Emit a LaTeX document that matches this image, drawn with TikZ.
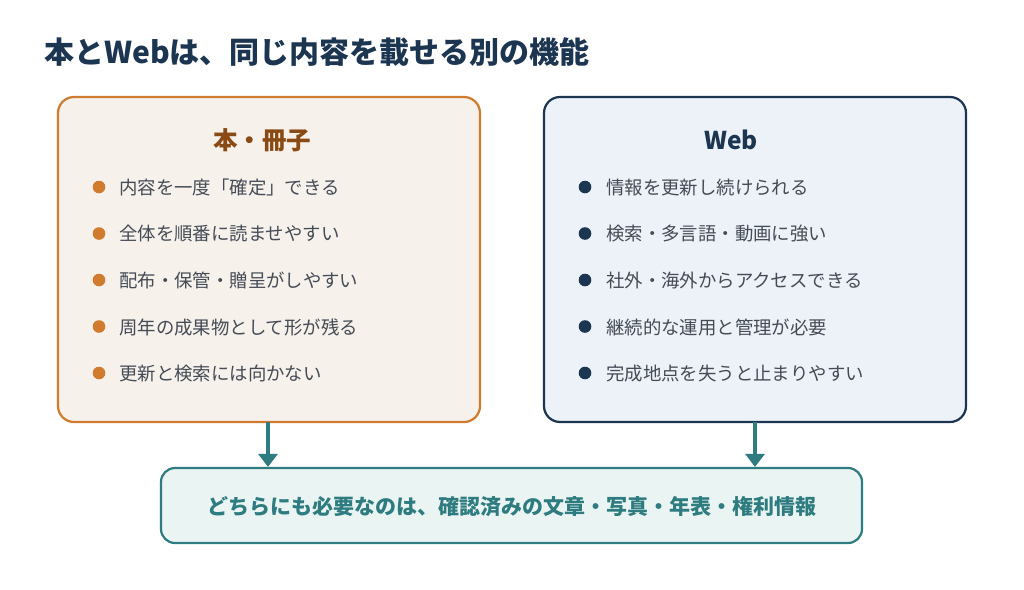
\documentclass[tikz,border=0pt]{standalone}
\usepackage{fontspec}
\setmainfont{Noto Sans CJK JP}
\usetikzlibrary{arrows.meta}
\definecolor{navy}{HTML}{1C3550}
\definecolor{orng}{HTML}{D07B2E}
\definecolor{brwn}{HTML}{8A4A14}
\definecolor{teal2}{HTML}{2E7C80}
\definecolor{txtg}{HTML}{454B55}
\definecolor{lfill}{HTML}{F6F1EB}
\definecolor{rfill}{HTML}{EDF2F9}
\definecolor{bfill}{HTML}{EAF4F2}
\tikzset{
  panel/.style={rounded corners=16pt, line width=2.2pt},
  itemtext/.style={anchor=west, inner sep=0pt, text=txtg, font=\fontsize{18.4}{21}\selectfont},
  headtext/.style={inner sep=0pt, font=\fontsize{24.5}{28}\selectfont\bfseries},
  flow/.style={draw=teal2, line width=3.5pt, -{Triangle[length=13pt,width=19pt]}},
}
\begin{document}
\begin{tikzpicture}[x=1pt,y=-1pt]
\useasboundingbox[fill=white] (0,0) rectangle (1024,589);
\node[anchor=west, inner sep=0pt, text=navy, font=\fontsize{30}{34}\selectfont\bfseries] (title) at (44,52) {本とWebは、同じ内容を載せる別の機能};

\draw[panel, draw=orng, fill=lfill] (58,97) rectangle (480,422);
\coordinate (lbot) at (268,422);
\draw[panel, draw=navy, fill=rfill] (544,97) rectangle (966,422);
\coordinate (rbot) at (755,422);
\node[draw=teal2, fill=bfill, rounded corners=14pt, line width=2.2pt, minimum width=701pt, minimum height=75pt, inner sep=0pt] (both) at (511.5,505.5) {};
\node[inner sep=0pt, text=teal2, font=\fontsize{21}{24}\selectfont\bfseries] (bothtext) at (512,507) {どちらにも必要なのは、確認済みの文章・写真・年表・権利情報};

\node[headtext, text=brwn] (lhead) at (262,140) {本・冊子};
\node[headtext, text=navy] (rhead) at (731,140) {Web};

\foreach \t [count=\i] in {内容を一度「確定」できる,全体を順番に読ませやすい,配布・保管・贈呈がしやすい,周年の成果物として形が残る,更新と検索には向かない}{
  \fill[orng] (99,{140.5+46.5*\i}) circle (6.3pt);
  \node[itemtext] (l\i) at (119,{141+46.5*\i}) {\t};
}
\foreach \t [count=\i] in {情報を更新し続けられる,検索・多言語・動画に強い,社外・海外からアクセスできる,継続的な運用と管理が必要,完成地点を失うと止まりやすい}{
  \fill[navy] (585,{140.5+46.5*\i}) circle (6.3pt);
  \node[itemtext] (r\i) at (606,{141+46.5*\i}) {\t};
}

\draw[flow] (lbot) -- (lbot |- both.north);
\draw[flow] (rbot) -- (rbot |- both.north);
\end{tikzpicture}
\end{document}
